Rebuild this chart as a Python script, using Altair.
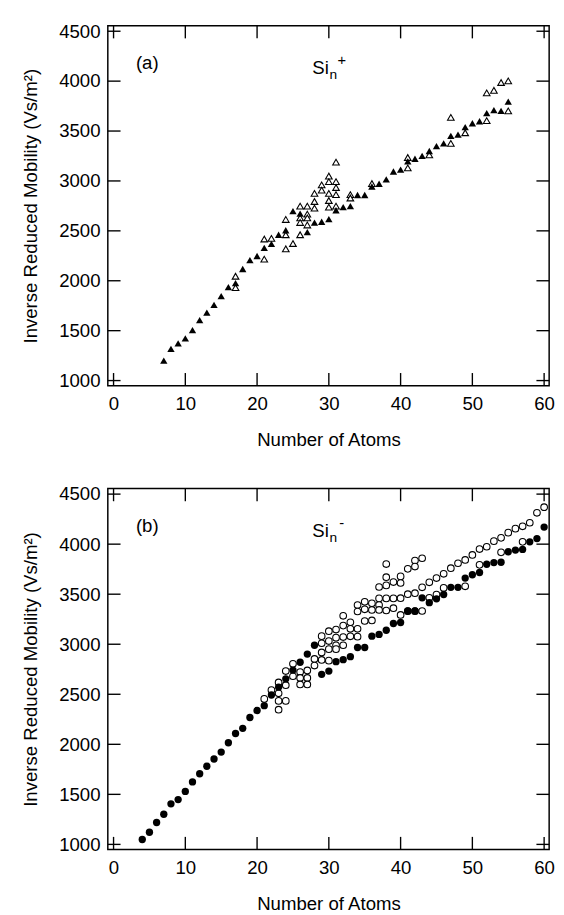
import altair as alt
import pandas as pd

FONT = "Liberation Sans"

# ---------------- data ----------------
x_ticks = [0, 10, 20, 30, 40, 50, 60]
y_ticks = [1000, 1500, 2000, 2500, 3000, 3500, 4000, 4500]

# Panel (a): Si_n+ , filled triangles
a_filled_n = list(range(7, 56))
a_filled_v = [1200, 1317, 1373, 1422, 1506, 1606, 1680, 1758, 1846, 1936,
              1977, 2118, 2207, 2248, 2330, 2370, 2461, 2506, 2698, 2673,
              2488, 2582, 2591, 2618, 2706, 2738, 2748, 2859, 2859, 2944,
              2972, 3016, 3095, 3114, 3196, 3222, 3251, 3300, 3349, 3376,
              3451, 3464, 3539, 3578, 3598, 3679, 3709, 3702, 3794]
# Panel (a): open triangles
a_open_n = [17, 17, 21, 21, 22, 24, 24, 24, 25, 26, 26, 26, 26, 27, 27, 27, 27,
            28, 28, 28, 29, 29, 30, 30, 30, 30, 30, 31, 31, 31, 31, 31, 33, 33,
            36, 41, 41, 44, 47, 47, 49, 52, 52, 53, 54, 55, 55]
a_open_v = [2045, 1931, 2418, 2216, 2424, 2614, 2461, 2320, 2373, 2748, 2630,
            2584, 2461, 2748, 2667, 2630, 2559, 2875, 2794, 2728, 2961, 2908,
            3049, 2993, 2875, 2804, 2738, 3189, 2993, 2934, 2863, 2748, 2863,
            2829, 2974, 3235, 3131, 3261, 3637, 3376, 3483, 3882, 3604, 3908,
            3986, 4003, 3702]

# Panel (b): Si_n- , filled circles
b_filled_n = list(range(4, 61))
b_filled_v = [1049, 1121, 1219, 1301, 1405, 1448, 1529, 1624, 1706, 1781,
              1853, 1922, 2016, 2108, 2160, 2268, 2338, 2386, 2493, 2572,
              2654, 2742, 2820, 2902, 2990, 2699, 2732, 2826, 2846, 2876,
              2967, 2967, 3081, 3098, 3140, 3207, 3217, 3332, 3332, 3464,
              3415, 3454, 3497, 3569, 3569, 3661, 3694, 3717, 3799, 3816,
              3819, 3924, 3941, 3947, 4023, 4056, 4171]
# Panel (b): open circles
b_open_n = [21, 22, 23, 23, 23, 23, 24, 24, 24, 25, 25, 26, 26, 26, 27, 27, 27,
            28, 28, 29, 29, 29, 29, 30, 30, 30, 30, 31, 31, 31, 31,
            32, 32, 32, 32, 33, 33, 33, 34, 34, 34, 34, 35, 35, 35, 36, 36, 36,
            37, 37, 37, 37, 38, 38, 38, 38, 38, 39, 39, 39, 40, 40, 40, 40,
            41, 41, 41, 42, 42, 42, 42, 43, 43, 43, 44, 44, 45, 45, 46, 46,
            47, 48, 49, 49, 50, 51, 51, 52, 53, 54, 54, 55, 56, 57, 57, 58,
            59, 60]
b_open_v = [2454, 2542, 2618, 2510, 2434, 2346, 2732, 2591, 2434, 2804, 2680,
            2722, 2663, 2598, 2738, 2663, 2598, 2853, 2787, 3081, 3010, 2918,
            2843, 3130, 3032, 2951, 2836, 3147, 3066, 2990, 2951,
            3284, 3186, 3072, 2990, 3219, 3154, 3079, 3392, 3327, 3154, 3076,
            3424, 3349, 3232, 3409, 3343, 3238,
            3572, 3458, 3392, 3343, 3801, 3670, 3588, 3458, 3337, 3621, 3458,
            3360, 3678, 3612, 3460, 3293,
            3753, 3500, 3330, 3836, 3776, 3510, 3330, 3859, 3569, 3332, 3619,
            3464, 3661, 3497, 3704, 3563,
            3760, 3809, 3842, 3579, 3892, 3951, 3793, 3974, 4030, 4063, 3918,
            4115, 4155, 4178, 4023, 4214, 4313, 4369]

# ---------------- layout constants ----------------
W = 451
HA = 368
HB = 369
TICK = 13
X_DOM = [-0.8, 60.7]
Y_DOM = [948, 4556]

xs = alt.Scale(domain=X_DOM, nice=False, zero=False)
ys = alt.Scale(domain=Y_DOM, nice=False, zero=False)

xax = alt.Axis(values=x_ticks, format="d", title="Number of Atoms", tickSize=0,
               domain=False, grid=False, labelFontSize=19, titleFontSize=19,
               labelPadding=9, titlePadding=18, labelColor="black",
               titleColor="black", titleFontWeight="normal", labelFont=FONT,
               titleFont=FONT, labelFlush=False, labelOverlap=False)
yax = alt.Axis(values=y_ticks, format="d", title="Inverse Reduced Mobility (Vs/m²)",
               tickSize=0, domain=False, grid=False, labelFontSize=19,
               titleFontSize=19, labelPadding=8, titlePadding=19,
               labelColor="black", titleColor="black", titleFontWeight="normal",
               labelFont=FONT, titleFont=FONT, labelOverlap=False, labelFlush=False)


def panel(fill_n, fill_v, open_n, open_v, shape, H, tag, sign):
    df_f = pd.DataFrame({"n": fill_n, "v": fill_v})
    df_o = pd.DataFrame({"n": open_n, "v": open_v})
    X = alt.X("n:Q", scale=xs, axis=xax)
    Y = alt.Y("v:Q", scale=ys, axis=yax)
    open_l = alt.Chart(df_o).mark_point(shape=shape, filled=False, fill="white",
                                        fillOpacity=1, stroke="black",
                                        strokeWidth=1.1, opacity=1, size=46).encode(x=X, y=Y)
    fill_l = alt.Chart(df_f).mark_point(shape=shape, filled=True, color="black",
                                        opacity=1, size=56).encode(x=X, y=Y)
    dx = pd.DataFrame({"t": x_ticks})
    dy = pd.DataFrame({"t": y_ticks})
    tx = alt.X("t:Q", scale=xs, axis=xax)
    ty = alt.Y("t:Q", scale=ys, axis=yax)
    rk = dict(color="black", strokeWidth=1.4)
    t_left = alt.Chart(dy).mark_rule(**rk).encode(y=ty, x=alt.value(0), x2=alt.value(TICK))
    t_right = alt.Chart(dy).mark_rule(**rk).encode(y=ty, x=alt.value(W - TICK), x2=alt.value(W))
    t_top = alt.Chart(dx).mark_rule(**rk).encode(x=tx, y=alt.value(0), y2=alt.value(TICK))
    t_bot = alt.Chart(dx).mark_rule(**rk).encode(x=tx, y=alt.value(H - TICK), y2=alt.value(H))

    lab = pd.DataFrame({"x": [4.7], "y": [4185], "s": [tag]})
    lab_l = alt.Chart(lab).mark_text(font=FONT, fontSize=19, align="center",
                                     baseline="middle", color="black").encode(
        x=alt.X("x:Q", scale=xs, axis=xax), y=alt.Y("y:Q", scale=ys, axis=yax), text="s:N")
    si = pd.DataFrame({"x": [27.7], "y": [4075], "s": ["Si"]})
    si_l = alt.Chart(si).mark_text(font=FONT, fontSize=19, align="left",
                                   baseline="alphabetic", color="black").encode(
        x=alt.X("x:Q", scale=xs, axis=xax), y=alt.Y("y:Q", scale=ys, axis=yax), text="s:N")
    sub = pd.DataFrame({"x": [30.1], "y": [4025], "s": ["n"]})
    sub_l = alt.Chart(sub).mark_text(font=FONT, fontSize=14, align="left",
                                     baseline="alphabetic", color="black").encode(
        x=alt.X("x:Q", scale=xs, axis=xax), y=alt.Y("y:Q", scale=ys, axis=yax), text="s:N")
    sup = pd.DataFrame({"x": [31.8], "y": [4215], "s": [sign]})
    sup_l = alt.Chart(sup).mark_text(font=FONT, fontSize=15, align="center",
                                     baseline="middle", color="black").encode(
        x=alt.X("x:Q", scale=xs, axis=xax), y=alt.Y("y:Q", scale=ys, axis=yax), text="s:N")

    return alt.layer(t_left, t_right, t_top, t_bot, open_l, fill_l,
                     lab_l, si_l, sub_l, sup_l).properties(width=W, height=H)


pa = panel(a_filled_n, a_filled_v, a_open_n, a_open_v, "triangle-up", HA, "(a)", "+")
pb = panel(b_filled_n, b_filled_v, b_open_n, b_open_v, "circle", HB, "(b)", "-")

chart = alt.vconcat(pa, pb, spacing=34).properties(
    padding={"left": 12, "top": 3, "right": 0, "bottom": 0},
    background="white",
).configure_view(stroke="black", strokeWidth=1.5).configure_concat(spacing=34)

chart.save("out.html", embed_options={"renderer": "svg", "actions": False})
